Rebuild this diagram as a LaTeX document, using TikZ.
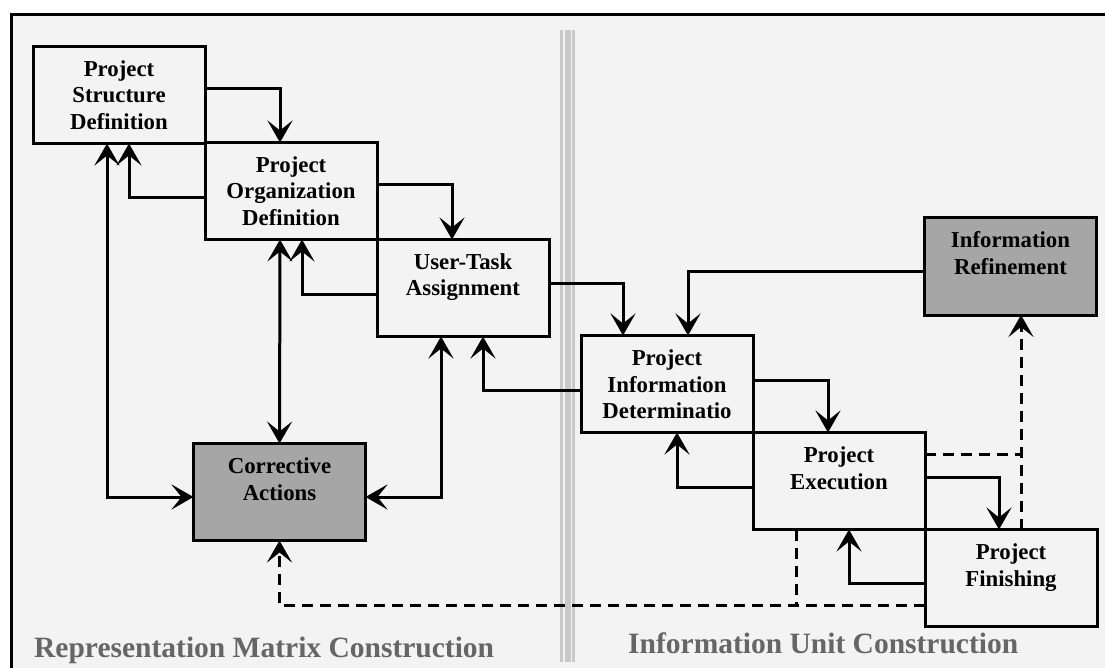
\documentclass[tikz,border=0pt]{standalone}
\usepackage{fontspec}
\setmainfont{Liberation Serif}
\usetikzlibrary{arrows.meta}
\definecolor{bgc}{HTML}{F3F3F3}
\definecolor{shade}{HTML}{A6A6A6}
\definecolor{divc}{HTML}{C8C8C8}
\definecolor{ttl}{HTML}{666666}
\newcommand\mybt[1]{\parbox[c][97pt][t]{172pt}{\fontsize{22.8}{26.5}\selectfont\bfseries\centering\rule{0pt}{30pt}#1}}
\tikzset{
  proc/.style={draw=black, line width=3pt, inner sep=0pt, outer sep=0pt},
  grayproc/.style={proc, fill=shade},
  tip/.tip={Stealth[length=22pt,width=25pt,inset=10pt]},
  arr/.style={line width=3pt, -tip},
  biarr/.style={line width=3pt, tip-tip},
  dsh/.style={line width=3pt, dash pattern=on 11pt off 7pt},
  dsharr/.style={dsh, -tip},
  title/.style={anchor=base west, text=ttl, font=\fontsize{29.5}{34}\selectfont\bfseries, inner sep=0pt}
}
\begin{document}
\begin{tikzpicture}[x=1pt,y=-1pt]
\useasboundingbox (0,0) rectangle (1105,668);
% frame
\fill[bgc] (11,15) rectangle (1105,668);
\draw[line width=3pt] (1105,15) -- (11,15) -- (11,668);
% divider
\draw[divc, line width=3pt] (561,30) -- (561,662);
\draw[divc, line width=6pt] (567.5,30) -- (567.5,662);
\draw[divc, line width=3pt] (573.5,30) -- (573.5,662);
% boxes
\node[proc] (PSD) at (119,95) {\mybt{Project\\Structure\\Definition}};
\node[proc] (POD) at (291,191) {\mybt{Project\\Organization\\Definition}};
\node[proc] (UTA) at (463,288) {\mybt{User-Task\\Assignment}};
\node[proc] (PID) at (667,384) {\mybt{Project\\Information\\Determinatio}};
\node[proc] (PE) at (839,481) {\mybt{Project\\Execution}};
\node[proc] (PF) at (1011,578) {\mybt{Project\\Finishing}};
\node[grayproc] (IR) at (1010.5,266.5) {\mybt{Information\\Refinement}};
\node[grayproc] (CA) at (279.5,492) {\mybt{Corrective\\Actions}};
% forward arrows
\draw[arr] ([yshift=6pt]PSD.east) -| ([xshift=-11pt]POD.north);
\draw[arr] ([yshift=6pt]POD.east) -| ([xshift=-11pt]UTA.north);
\draw[arr] ([yshift=5pt]UTA.east) -| ([xshift=-44pt]PID.north);
\draw[arr] ([yshift=-5.5pt]IR.west) -| ([xshift=21pt]PID.north);
\draw[arr] ([yshift=4pt]PID.east) -| ([xshift=-11pt]PE.north);
\draw[arr] ([yshift=4pt]PE.east) -| ([xshift=-12pt]PF.north);
% feedback arrows
\draw[arr] ([yshift=-7pt]POD.west) -| ([xshift=10pt]PSD.south);
\draw[arr] ([yshift=-6pt]UTA.west) -| ([xshift=11pt]POD.south);
\draw[arr] ([yshift=-6pt]PID.west) -| ([xshift=20pt]UTA.south);
\draw[arr] ([yshift=-6pt]PE.west) -| ([xshift=10pt]PID.south);
\draw[arr] ([yshift=-5pt]PF.west) -| ([xshift=10pt]PE.south);
% corrective actions links
\draw[biarr] ([xshift=-12pt]PSD.south) |- ([yshift=-5pt]CA.west);
\draw[biarr] ([xshift=-11pt]POD.south) -- (CA.north);
\draw[biarr] ([xshift=-22pt]UTA.south) |- ([yshift=-5pt]CA.east);
% dashed links
\coordinate (pfw) at ([yshift=-27pt]PF.west);
\coordinate (pes) at ([xshift=-43pt]PE.south);
\coordinate (pfn) at ([xshift=10pt]PF.north);
\coordinate (pee) at ([yshift=27pt]PE.east);
\draw[dsharr] (pfw) -| (CA.south);
\draw[dsh] (pes) -- (pes |- pfw);
\draw[dsharr] (pfn) -- (pfn |- IR.south);
\draw[dsh] (pee) -- (pee -| pfn);
% titles
\node[title] (t1) at (34,657) {Representation Matrix Construction};
\node[title] (t2) at (628,653) {Information Unit Construction};
\end{tikzpicture}
\end{document}
